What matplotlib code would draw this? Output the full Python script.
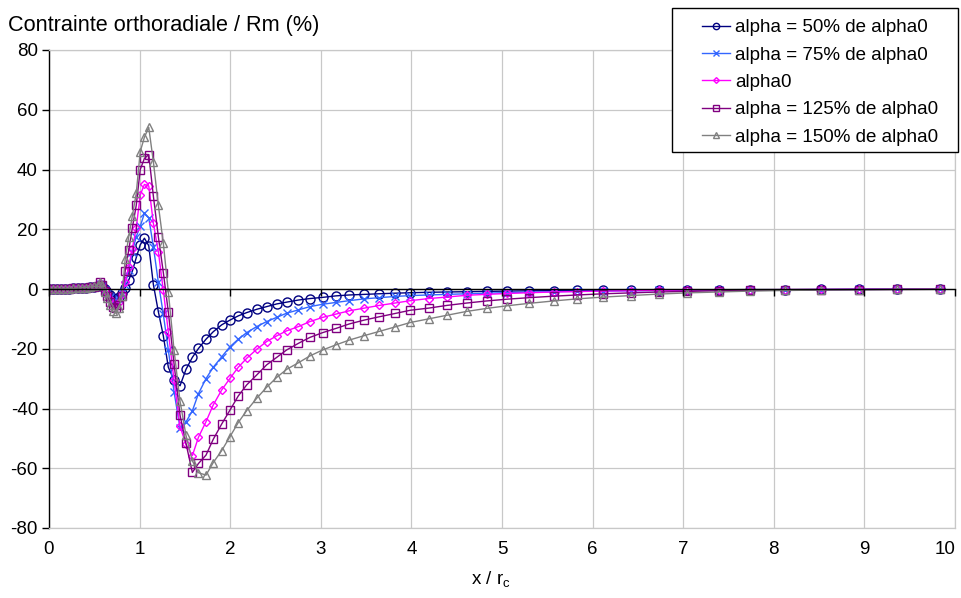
import matplotlib
matplotlib.use("Agg")
import matplotlib.pyplot as plt
from matplotlib.patches import Rectangle

plt.rcParams['font.family'] = ['Liberation Sans', 'DejaVu Sans']
plt.rcParams['axes.unicode_minus'] = False

# ---------------- data ----------------
x_rc = [0.0, 0.045, 0.09, 0.135, 0.18, 0.225, 0.27, 0.315, 0.36, 0.405, 0.45, 0.495,
        0.537, 0.561, 0.587, 0.614, 0.642, 0.672, 0.703, 0.735, 0.769,
        0.804, 0.841, 0.880, 0.920, 0.963, 1.007, 1.053, 1.101, 1.152, 1.207, 1.262, 1.317, 1.38, 1.446,
        1.512, 1.582, 1.65, 1.733, 1.813, 1.906, 1.998, 2.089, 2.182, 2.292, 2.402, 2.513, 2.623, 2.752,
        2.88, 3.021, 3.167, 3.314, 3.48, 3.645, 3.819,
        3.99, 4.19, 4.39, 4.61, 4.83, 5.06, 5.30, 5.57, 5.83, 6.12, 6.42, 6.73, 7.04, 7.39, 7.74,
        8.12, 8.52, 8.94, 9.36, 9.83]

alpha_50 = [0.0, 0.0, 0.0, 0.05, 0.1, 0.15, 0.2, 0.3, 0.4, 0.5, 0.6, 0.7,
            0.9, 1.5, 1.0, 0.0, -1.0, -2.0, -3.0, -3.4, -2.8,
            -1.5, 0.5, 3.0, 6.0, 10.5, 14.8, 17.0, 14.5, 1.5, -7.6, -15.7, -26.2, -30.5, -32.4,
            -26.9, -22.9, -19.9, -16.8, -14.3, -12.0, -10.4, -9.0, -7.9, -6.8, -5.9, -5.0, -4.4, -3.7,
            -3.2, -2.8, -2.3, -2.0, -1.8, -1.6, -1.4,
            -1.25, -1.1, -1.0, -0.9, -0.8, -0.7, -0.6, -0.55, -0.5, -0.45, -0.4, -0.35, -0.3, -0.25, -0.2,
            -0.2, -0.15, -0.1, -0.1, -0.1]

alpha_75 = [0.0, 0.0, 0.0, 0.05, 0.1, 0.15, 0.2, 0.3, 0.4, 0.5, 0.6, 0.7,
            0.9, 1.7, 1.0, -0.3, -1.5, -2.8, -4.0, -4.5, -3.5,
            -1.5, 1.5, 6.5, 12.5, 17.5, 21.0, 25.3, 23.8, 14.2, 2.2, -8.5, -20.4, -34.4, -46.4,
            -44.5, -40.8, -35.0, -30.0, -26.2, -22.7, -19.3, -16.8, -14.6, -12.6, -10.9, -9.5, -8.1, -7.0,
            -5.9, -5.1, -4.5, -3.9, -3.3, -2.9, -2.5,
            -2.2, -2.0, -1.8, -1.6, -1.4, -1.2, -1.05, -0.9, -0.8, -0.7, -0.6, -0.5, -0.4, -0.35, -0.3,
            -0.25, -0.2, -0.15, -0.1, -0.1]

alpha_100 = [0.0, 0.0, 0.0, 0.05, 0.1, 0.15, 0.2, 0.3, 0.4, 0.5, 0.6, 0.75,
             1.0, 1.9, 1.0, -0.5, -2.0, -3.5, -5.0, -5.6, -4.5,
             -1.8, 2.5, 7.5, 13.5, 20.5, 31.5, 35.0, 34.5, 22.0, 12.5, -0.5, -14.3, -30.5, -46.0,
             -52.0, -55.8, -49.6, -44.4, -38.8, -33.8, -29.9, -26.2, -23.2, -20.2, -17.6, -15.7, -14.0, -12.6,
             -10.9, -9.5, -8.4, -7.3, -6.4, -5.5, -4.7,
             -3.9, -3.2, -2.7, -2.1, -1.8, -1.5, -1.25, -1.0, -0.85, -0.7, -0.55, -0.45, -0.35, -0.3, -0.25,
             -0.2, -0.15, -0.1, -0.1, -0.05]

alpha_125 = [0.0, 0.0, 0.0, 0.05, 0.1, 0.15, 0.2, 0.3, 0.4, 0.5, 0.65, 0.8,
             1.1, 2.2, 1.2, -0.8, -2.5, -4.5, -6.0, -6.5, -5.5,
             -2.2, 6.0, 13.0, 20.5, 28.0, 40.0, 43.7, 45.0, 31.1, 17.5, 5.5, -7.7, -25.0, -42.2,
             -51.7, -61.4, -58.4, -55.6, -50.3, -45.2, -40.5, -35.8, -32.1, -28.8, -25.4, -22.9, -20.4, -18.2,
             -16.2, -14.6, -13.2, -11.7, -10.4, -9.3, -8.2,
             -7.1, -6.4, -5.5, -4.7, -4.0, -3.4, -2.9, -2.4, -2.0, -1.6, -1.3, -1.0, -0.8, -0.6, -0.45,
             -0.35, -0.25, -0.2, -0.15, -0.1]

alpha_150 = [0.0, 0.0, 0.0, 0.05, 0.1, 0.15, 0.2, 0.3, 0.4, 0.5, 0.65, 0.85,
             1.2, 2.4, 1.3, -1.0, -3.0, -5.5, -7.5, -8.0, -6.5,
             -2.5, 10.0, 17.5, 24.5, 32.0, 46.0, 50.8, 54.1, 42.6, 28.0, 15.3, -1.0, -20.4, -37.5,
             -49.0, -57.5, -61.5, -62.3, -58.1, -54.1, -49.4, -44.7, -40.7, -36.6, -32.9, -29.6, -26.9, -24.7,
             -22.4, -20.4, -18.7, -17.1, -15.6, -14.2, -12.7,
             -11.2, -10.0, -8.8, -7.5, -6.5, -5.6, -4.8, -4.0, -3.3, -2.7, -2.2, -1.7, -1.3, -1.0, -0.7,
             -0.5, -0.35, -0.25, -0.15, -0.1]

series_labels = ["alpha = 50% de alpha0", "alpha = 75% de alpha0", "alpha0",
                 "alpha = 125% de alpha0", "alpha = 150% de alpha0"]
x_ticks = [0, 1, 2, 3, 4, 5, 6, 7, 8, 9, 10]
y_ticks = [-80, -60, -40, -20, 0, 20, 40, 60, 80]

# ---------------- styles ----------------
styles = [
    dict(color='#000080', marker='o', ms=6.5, mfc='none', mew=1.0),
    dict(color='#3366FF', marker='x', ms=6.0, mew=1.0),
    dict(color='#FF00FF', marker='D', ms=4.2, mfc='none', mew=1.0),
    dict(color='#800080', marker='s', ms=6.0, mfc='none', mew=1.0),
    dict(color='#808080', marker='^', ms=6.0, mfc='none', mew=1.0),
]
all_series = [alpha_50, alpha_75, alpha_100, alpha_125, alpha_150]

W, H = 961, 598
fig = plt.figure(figsize=(W / 100, H / 100), dpi=100)
ax = fig.add_axes([49 / W, 1 - 528 / H, 906 / W, 478 / H])

handles = []
for ys, st, lab in zip(all_series, styles, series_labels):
    h, = ax.plot(x_rc, ys, lw=1.0, label=lab, **st)
    handles.append(h)

ax.set_xlim(x_ticks[0], x_ticks[-1])
ax.set_ylim(y_ticks[0], y_ticks[-1])
ax.set_xticks(x_ticks)
ax.set_yticks(y_ticks)
ax.grid(True, color='#c8c8c8', lw=0.9)
ax.set_axisbelow(True)

for side in ['top', 'right', 'bottom']:
    ax.spines[side].set_color('#c8c8c8')
    ax.spines[side].set_linewidth(0.9)
ax.spines['left'].set_color('black')
ax.spines['left'].set_linewidth(1.0)

ax.tick_params(axis='y', direction='out', length=5, width=1, colors='black', labelsize=13.5, pad=3)
ax.tick_params(axis='x', length=0, labelsize=13.5, pad=9)
# last x label kept inside the figure, as in the reference
ax.get_xticklabels()[-1].set_horizontalalignment('right')
ax.get_xticklabels()[-1].set_x(x_ticks[-1])

# horizontal axis crossing at zero with its tick marks
ax2 = ax.twiny()
ax2.set_xlim(x_ticks[0], x_ticks[-1])
ax2.set_xticks(x_ticks)
ax2.xaxis.set_ticks_position('bottom')
ax2.spines['bottom'].set_position(('data', 0))
ax2.spines['bottom'].set_color('black')
ax2.spines['bottom'].set_linewidth(1.0)
for side in ['top', 'right', 'left']:
    ax2.spines[side].set_visible(False)
ax2.tick_params(axis='x', direction='out', length=5, width=1, colors='black',
                labelbottom=False, labeltop=False, top=False, bottom=True)
ax2.patch.set_visible(False)

# texts
fig.text(8 / W, 1 - 25 / H, "Contrainte orthoradiale / Rm (%)", fontsize=15.6, ha='left', va='center')
fig.text(491 / W, 1 - 580 / H, r'x / r$_\mathregular{c}$', fontsize=13.5, ha='center', va='center')

# legend box
rect = Rectangle((672 / W, 1 - 152 / H), 286 / W, 144 / H, transform=fig.transFigure,
                 facecolor='white', edgecolor='black', lw=1.0, zorder=3)
fig.add_artist(rect)
leg = fig.legend(handles, series_labels, loc='upper left', bbox_to_anchor=(702 / W, 1 - 19 / H),
                 frameon=False, borderpad=0, borderaxespad=0, handlelength=1.5, handletextpad=0.27,
                 labelspacing=0.55, fontsize=13.5, markerscale=0.7)
leg.set_zorder(4)

fig.savefig('out.png', dpi=100)
